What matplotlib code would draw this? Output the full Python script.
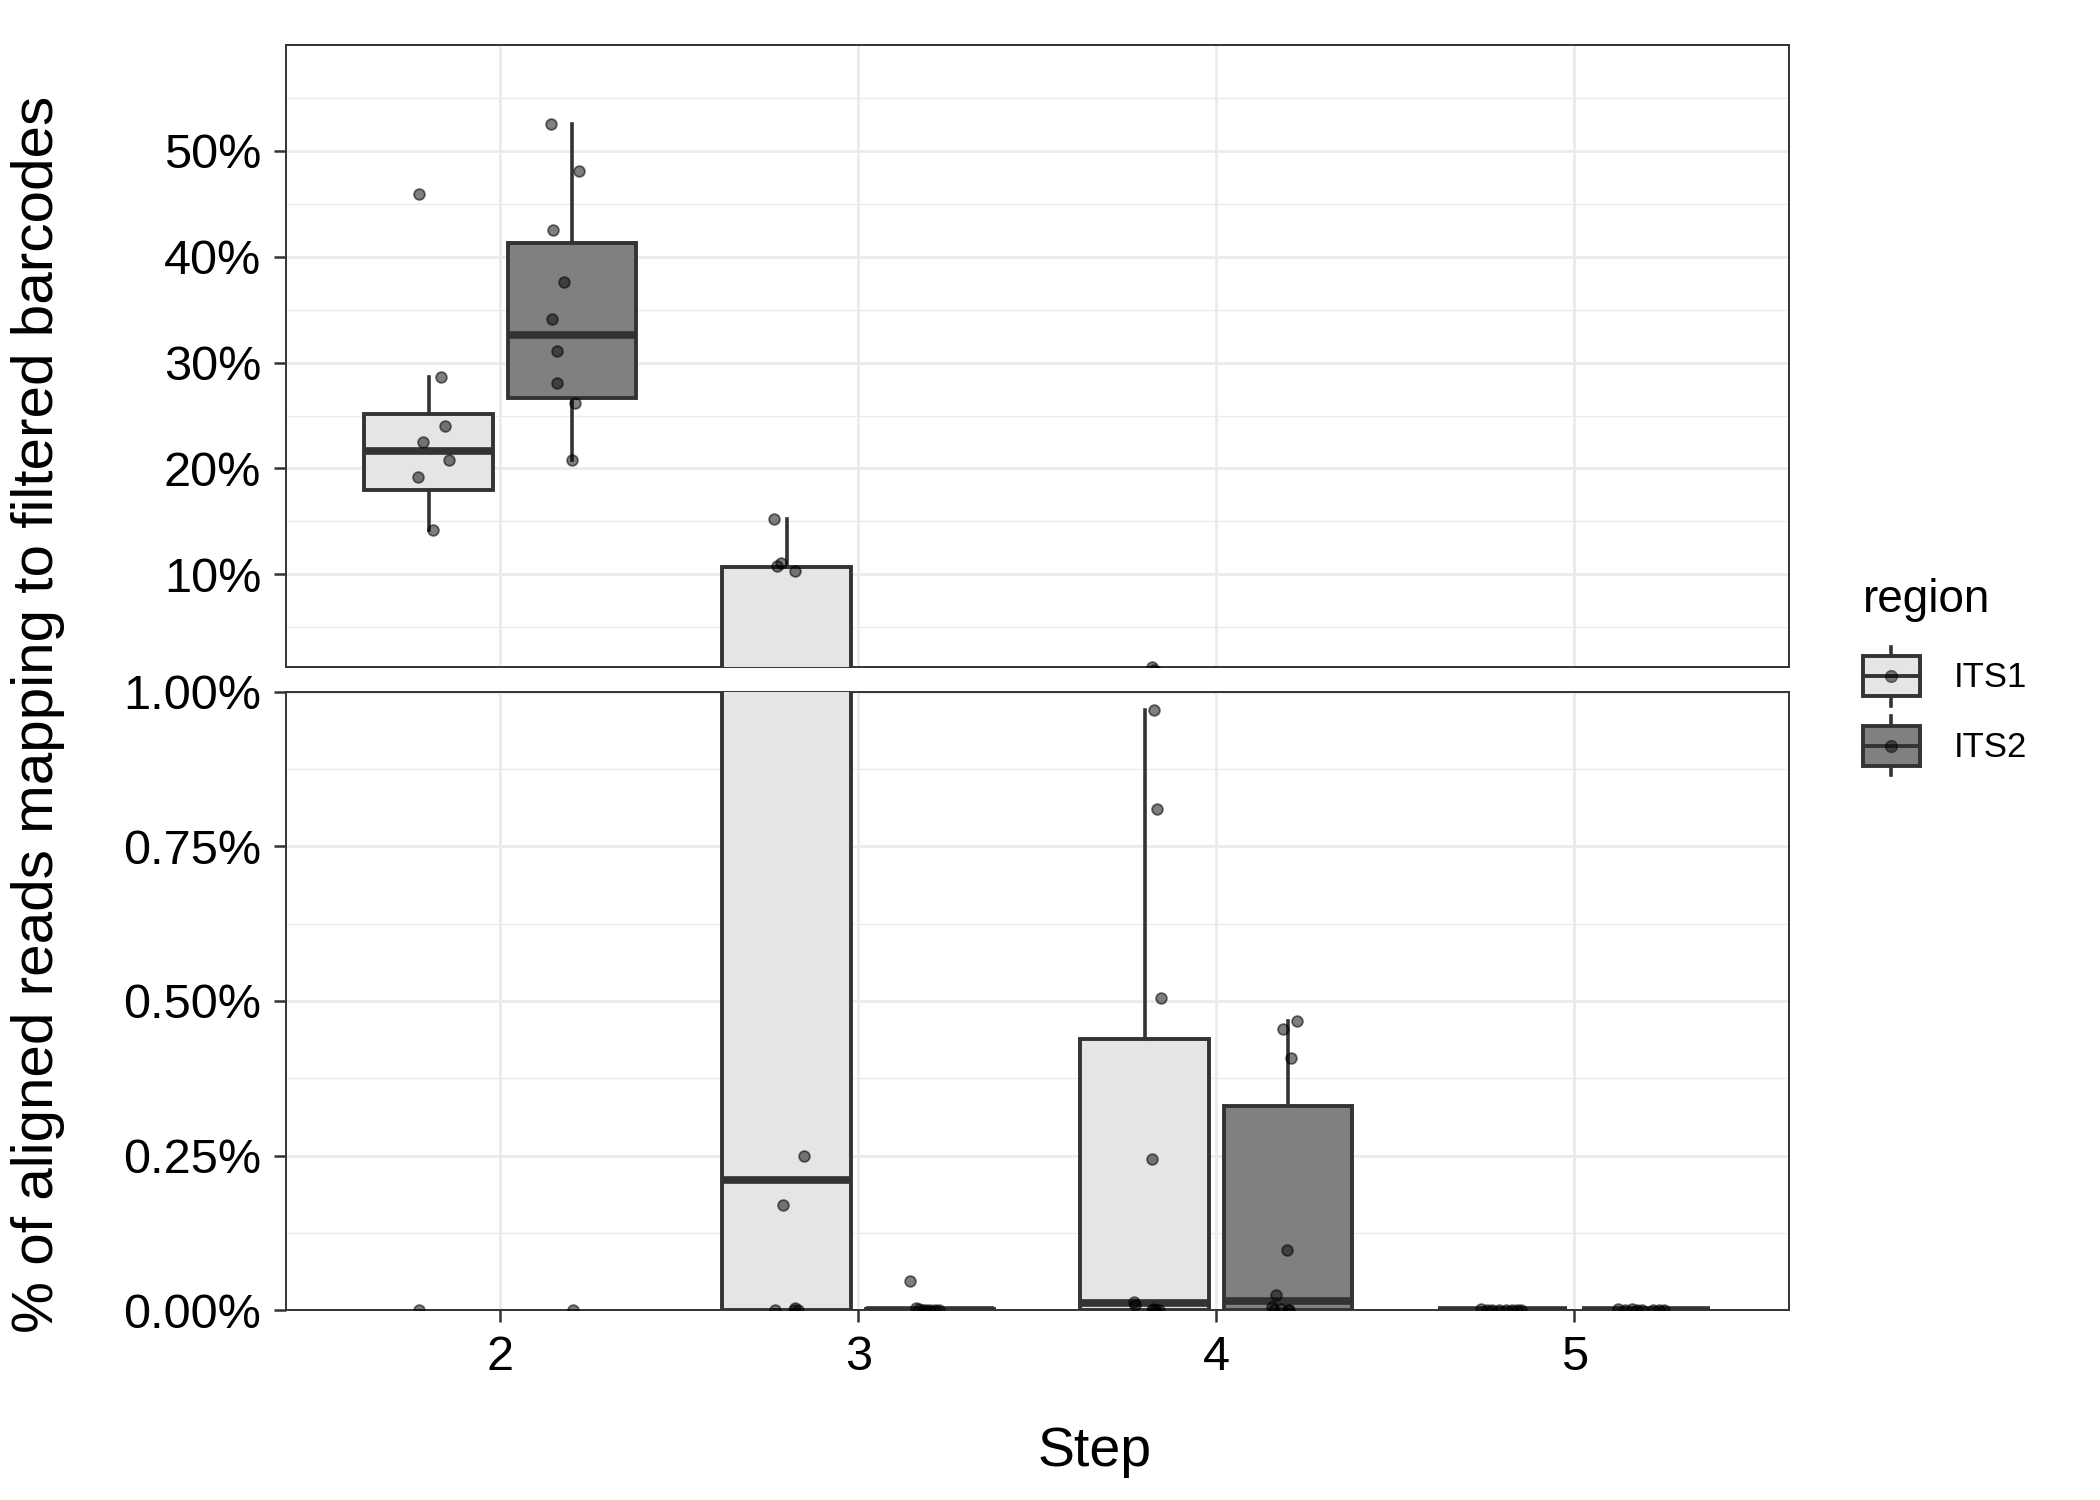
import numpy as np
import matplotlib
matplotlib.use("Agg")
import matplotlib.pyplot as plt
from matplotlib.patches import Patch, Rectangle
from matplotlib.lines import Line2D
from matplotlib.legend_handler import HandlerBase
from matplotlib.ticker import PercentFormatter, MultipleLocator, FixedLocator

plt.rcParams['font.family'] = ['Liberation Sans', 'DejaVu Sans']

# ---- data (values in %) ----
steps = [2, 3, 4, 5]
regions = ["ITS1", "ITS2"]

its1_pct = [
    [45.9, 28.6, 24.0, 22.5, 20.8, 19.2, 14.2, 0.0],
    [15.2, 11.1, 10.8, 10.3, 0.25, 0.17, 0.003, 0.0, 0.0, 0.0],
    [0.97, 0.81, 0.504, 0.244, 0.013, 0.009, 0.002, 0.0, 0.0, 0.0],
    [0.002, 0.001, 0.001, 0.0005, 0.0, 0.0, 0.0, 0.0],
]
its2_pct = [
    [52.5, 48.1, 42.5, 37.6, 34.1, 31.1, 28.1, 26.2, 20.8, 0.0],
    [0.047, 0.003, 0.002, 0.001, 0.001, 0.0, 0.0, 0.0],
    [0.468, 0.455, 0.407, 0.097, 0.024, 0.005, 0.002, 0.0, 0.0, 0.0],
    [0.002, 0.0015, 0.001, 0.0, 0.0, 0.0, 0.0, 0.0],
]
# horizontal jitter of each point (step units)
its1_jit = [
    [-0.026, 0.034, 0.045, -0.015, 0.056, -0.030, 0.011, -0.026],
    [-0.037, -0.015, -0.026, 0.022, 0.049, -0.011, 0.022, 0.030, -0.034, 0.019],
    [0.026, 0.034, 0.045, 0.019, -0.030, -0.026, 0.026, 0.041, 0.019, 0.030],
    [-0.060, -0.030, 0.010, 0.050, -0.045, -0.010, 0.025, 0.040],
]
its2_jit = [
    [-0.060, 0.019, -0.052, -0.022, -0.056, -0.041, -0.041, 0.007, 0.000, 0.004],
    [-0.056, -0.040, -0.030, -0.010, 0.000, 0.015, 0.026, -0.020],
    [0.026, -0.015, 0.007, -0.004, -0.034, -0.045, -0.020, -0.040, 0.004, 0.000],
    [-0.078, -0.040, 0.050, -0.060, -0.010, 0.020, 0.035, -0.025],
]
# ITS1 step-4 outlier sitting on the lower edge of the top panel
its1_s4_outlier = [1.2]
its1_s4_outlier_jit = [0.019]

FILLS = {"ITS1": "#E5E5E5", "ITS2": "#808080"}
EDGE = "#333333"
GRID = "#EBEBEB"
DODGE = 0.2
BOXW = 0.36
PT_KW = dict(s=60, facecolor=(0, 0, 0, 0.5), edgecolor=(0, 0, 0, 0.55),
             linewidth=1.3, zorder=4)


def draw(ax):
    for reg, vals, jit, off in [("ITS1", its1_pct, its1_jit, -DODGE),
                                ("ITS2", its2_pct, its2_jit, DODGE)]:
        pos = [s + off for s in steps]
        ax.boxplot(vals, positions=pos, widths=BOXW, patch_artist=True,
                   showfliers=False, whis=1.5, manage_ticks=False, zorder=3,
                   boxprops=dict(facecolor=FILLS[reg], edgecolor=EDGE, linewidth=2.8),
                   medianprops=dict(color=EDGE, linewidth=5.5, solid_capstyle="butt"),
                   whiskerprops=dict(color=EDGE, linewidth=2.6),
                   capprops=dict(linewidth=0))
        for p, v, j in zip(pos, vals, jit):
            ax.scatter(p + np.asarray(j), v, **PT_KW)
    ax.scatter(steps[2] - DODGE + np.asarray(its1_s4_outlier_jit), its1_s4_outlier, **PT_KW)
    ax.set_xlim(1.4, 5.6)
    ax.xaxis.set_major_locator(FixedLocator(steps))
    ax.grid(True, which="major", color=GRID, linewidth=2.0, zorder=0)
    ax.grid(True, which="minor", axis="y", color=GRID, linewidth=1.0, zorder=0)
    ax.set_axisbelow(True)
    for sp in ax.spines.values():
        sp.set_color(EDGE)
        sp.set_linewidth(1.4)
    ax.tick_params(axis="both", which="major", length=8.5, width=1.8, color=EDGE,
                   labelsize=35, pad=9, labelcolor="black")
    ax.tick_params(axis="both", which="minor", length=0)


fig = plt.figure(figsize=(21, 15), dpi=100)
ax_top = fig.add_axes([0.136, 0.555, 0.716, 0.415])
ax_bot = fig.add_axes([0.136, 0.1265, 0.716, 0.4125])

draw(ax_top)
ax_top.set_ylim(1.2, 60)
ax_top.yaxis.set_major_locator(FixedLocator([10, 20, 30, 40, 50]))
ax_top.yaxis.set_minor_locator(FixedLocator([5, 15, 25, 35, 45, 55]))
ax_top.yaxis.set_major_formatter(PercentFormatter(100, decimals=0))
ax_top.tick_params(axis="x", which="both", length=0, labelbottom=False)

draw(ax_bot)
ax_bot.set_ylim(0, 1.0)
ax_bot.yaxis.set_major_locator(MultipleLocator(0.25))
ax_bot.yaxis.set_minor_locator(MultipleLocator(0.125))
ax_bot.yaxis.set_major_formatter(PercentFormatter(100, decimals=2))
ax_bot.set_xticklabels([str(s) for s in steps])

fig.text(0.521, 0.032, "Step", fontsize=40, ha="center", va="center")
fig.text(0.018, 0.524, "% of aligned reads mapping to filtered barcodes",
         fontsize=42, rotation=90, ha="center", va="center")


class BoxKey(HandlerBase):
    def create_artists(self, legend, orig_handle, xdescent, ydescent,
                       width, height, fontsize, trans):
        x0, y0 = -xdescent, -ydescent
        bh = height * 0.68
        by = y0 + (height - bh) / 2
        cx, cy = x0 + width / 2, by + bh / 2
        arts = [
            Line2D([cx, cx], [by + bh, y0 + height], color=EDGE, lw=2.6),
            Line2D([cx, cx], [y0, by], color=EDGE, lw=2.6),
            Rectangle((x0, by), width, bh, facecolor=orig_handle.get_facecolor(),
                      edgecolor=EDGE, lw=2.8),
            Line2D([x0, x0 + width], [cy, cy], color=EDGE, lw=2.8),
            Line2D([cx], [cy], marker="o", ms=8.5, color="black", alpha=0.5, lw=0),
        ]
        for a in arts:
            a.set_transform(trans)
        return arts


handles = [Patch(facecolor=FILLS[r], edgecolor=EDGE) for r in regions]
leg = fig.legend(handles, regions, title="region", loc="center left",
                 bbox_to_anchor=(0.887, 0.549), frameon=False, fontsize=25,
                 title_fontsize=33, handlelength=1.64, handleheight=2.25,
                 handletextpad=0.98, labelspacing=0.3, alignment="left",
                 borderpad=0, borderaxespad=0,
                 handler_map={Patch: BoxKey()})
leg._legend_box.sep = 18  # extra room between the title and the keys

fig.savefig("out.png", dpi=100)
